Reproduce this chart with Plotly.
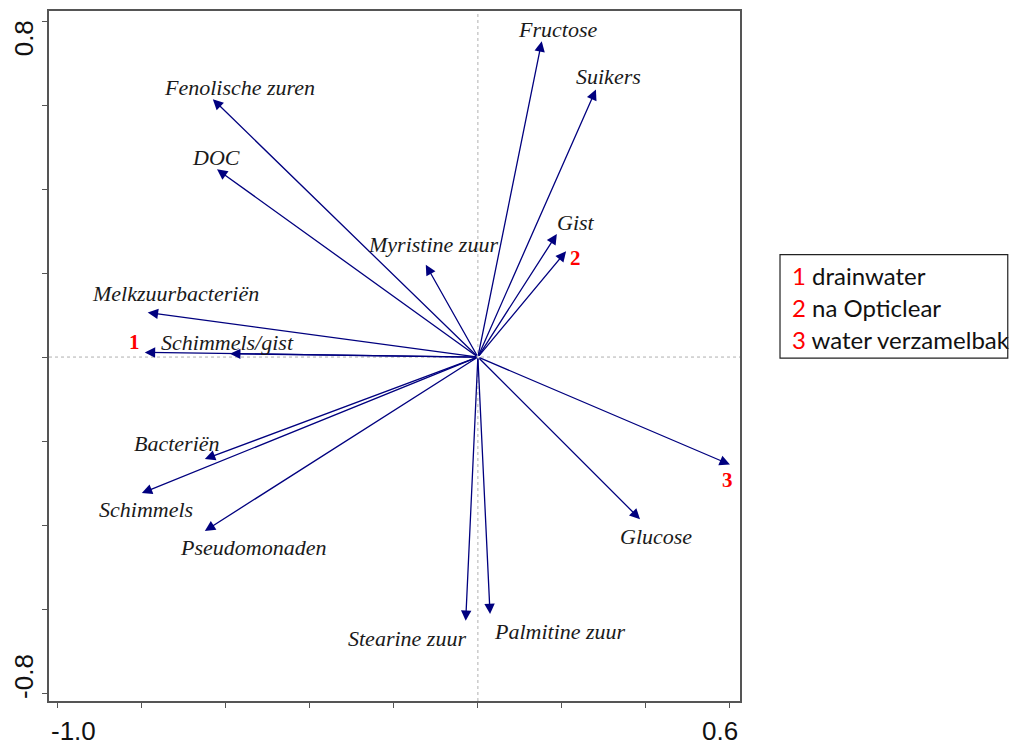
import plotly.graph_objects as go

# Species / variable arrows (biplot scores)
var_names = ["Fructose", "Suikers", "Fenolische zuren", "DOC", "Gist", "Myristine zuur",
             "Melkzuurbacteriën", "Schimmels/gist", "Bacteriën", "Schimmels",
             "Pseudomonaden", "Stearine zuur", "Palmitine zuur", "Glucose"]
var_x = [0.152, 0.281, -0.631, -0.621, 0.188, -0.124, -0.786, -0.590, -0.650, -0.800,
         -0.650, -0.029, 0.029, 0.386]
var_y = [0.752, 0.637, 0.614, 0.447, 0.293, 0.220, 0.106, 0.008, -0.243, -0.324,
         -0.414, -0.628, -0.612, -0.386]

# Sample (site) arrows
site_names = ["1", "2", "3"]
site_x = [-0.793, 0.210, 0.600]
site_y = [0.011, 0.252, -0.256]

legend_nums = ["1", "2", "3"]
legend_labels = ["drainwater", "na Opticlear", "water verzamelbak"]

# label offsets in pixels (dx, dy with screen y downward)
var_offsets = [(16, -12), (13, -13), (27, -12), (-1, -12), (19, -12), (7, -20),
               (28, -19), (-3, -11), (-28, -16), (4, 16), (48, 17), (-59, 18),
               (70, 17), (16, 17)]
site_offsets = [(-10, -10), (9, 7), (-2, 15)]

ARROW = "#00007f"
fig = go.Figure()
fig.add_trace(go.Scatter(x=[0], y=[0], mode="markers", marker=dict(size=1, color="rgba(0,0,0,0)"),
                         hoverinfo="skip", showlegend=False))

annotations = []
for xs, ys in [(var_x, var_y), (site_x, site_y)]:
    for x, y in zip(xs, ys):
        annotations.append(dict(x=x, y=y, ax=0, ay=0, xref="x", yref="y", axref="x", ayref="y",
                                text="", showarrow=True, arrowhead=2, arrowsize=1.6,
                                arrowwidth=1.3, arrowcolor=ARROW, standoff=0, startstandoff=0))

for name, x, y, (dx, dy) in zip(var_names, var_x, var_y, var_offsets):
    annotations.append(dict(x=x, y=y, xref="x", yref="y", text="<i>" + name + "</i>",
                            showarrow=False, xshift=dx, yshift=-dy,
                            xanchor="center", yanchor="middle",
                            font=dict(family="Liberation Serif", size=22, color="#1a1a1a")))

for name, x, y, (dx, dy) in zip(site_names, site_x, site_y, site_offsets):
    annotations.append(dict(x=x, y=y, xref="x", yref="y", text="<b>" + name + "</b>",
                            showarrow=False, xshift=dx, yshift=-dy,
                            font=dict(family="Liberation Serif", size=21, color="#ff0000")))

# axis end labels
tick_font = dict(family="Liberation Sans", size=26, color="#111111")
annotations += [
    dict(x=-0.037, y=0.99, xref="paper", yref="paper", text="0.8", showarrow=False,
         textangle=-90, xanchor="center", yanchor="top", font=tick_font),
    dict(x=-0.037, y=0.0, xref="paper", yref="paper", text="-0.8", showarrow=False,
         textangle=-90, xanchor="center", yanchor="bottom", font=tick_font),
    dict(x=0.0, y=-0.044, xref="paper", yref="paper", text="-1.0", showarrow=False,
         xanchor="left", yanchor="middle", font=tick_font),
    dict(x=1.0, y=-0.044, xref="paper", yref="paper", text="0.6", showarrow=False,
         xanchor="right", yanchor="middle", font=tick_font),
]

# legend box text
leg_y = [0.617, 0.571, 0.5246]
for n, lab, ly in zip(legend_nums, legend_labels, leg_y):
    annotations.append(dict(x=1.0725, y=ly, xref="paper", yref="paper",
                            text='<span style="color:#ff0000">' + n + '</span> ' + lab,
                            showarrow=False, xanchor="left", yanchor="middle",
                            font=dict(family="Lato", size=24, color="#111111")))

shapes = [
    dict(type="line", xref="x", yref="paper", x0=0, x1=0, y0=0, y1=1,
         line=dict(color="#b0b0b0", width=1, dash="dot"), layer="below"),
    dict(type="line", xref="paper", yref="y", x0=0, x1=1, y0=0, y1=0,
         line=dict(color="#b0b0b0", width=1, dash="dot"), layer="below"),
    dict(type="rect", xref="paper", yref="paper", x0=1.0579, x1=1.3875, y0=0.497, y1=0.647,
         line=dict(color="#222222", width=1.2), fillcolor="rgba(0,0,0,0)"),
]

tickvals_x = [-1.0, -0.8, -0.6, -0.4, -0.2, 0.0, 0.2, 0.4, 0.6]
tickvals_y = [-0.8, -0.6, -0.4, -0.2, 0.0, 0.2, 0.4, 0.6, 0.8]

fig.update_layout(
    width=1011, height=746,
    margin=dict(l=49, r=271, t=9, b=45),
    plot_bgcolor="white", paper_bgcolor="white",
    showlegend=False,
    annotations=annotations, shapes=shapes,
    xaxis=dict(range=[-1.021, 0.624], showgrid=False, zeroline=False, showline=True,
               linecolor="#555555", linewidth=2, mirror=True, ticks="outside", ticklen=5,
               tickcolor="#555555", tickvals=tickvals_x, showticklabels=False, fixedrange=True),
    yaxis=dict(range=[-0.819, 0.824], showgrid=False, zeroline=False, showline=True,
               linecolor="#555555", linewidth=2, mirror=True, ticks="outside", ticklen=5,
               tickcolor="#555555", tickvals=tickvals_y, showticklabels=False, fixedrange=True),
)

fig.write_html("out.html", config={"displayModeBar": False},
               post_script="document.body.style.margin='0';document.body.style.overflow='hidden';")
